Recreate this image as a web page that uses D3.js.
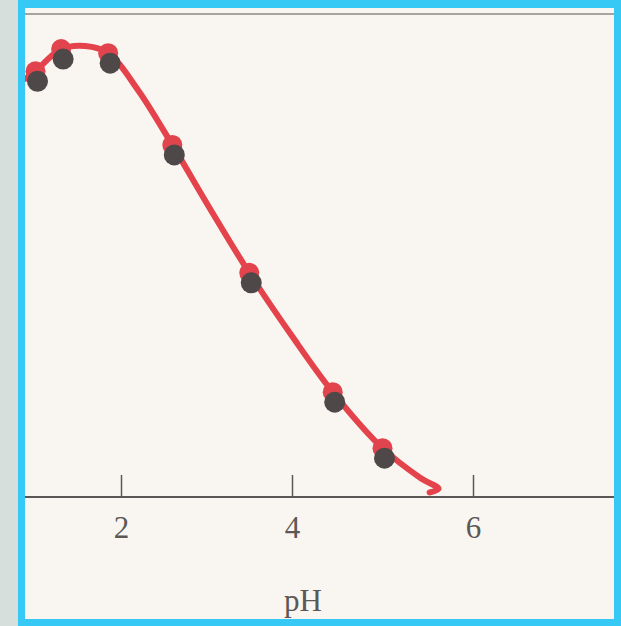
<!DOCTYPE html>
<html>
<head>
<meta charset="utf-8">
<script src="https://cdn.jsdelivr.net/npm/d3@7"></script>
<style>
  html, body { margin: 0; padding: 0; background: #d9e2de; }
  svg { display: block; }
</style>
</head>
<body>
<div id="chart"></div>
<script>
// measured points (pH, relative activity %)
const pointPH = [1.0, 1.3, 1.85, 2.6, 3.5, 4.45, 5.0];
const pointActivity = [94.2, 99.1, 98.2, 77.9, 49.6, 23.2, 10.8];

// fitted red curve
const curvePH = [0.88, 1.0, 1.3, 1.58, 1.85, 2.2, 2.6, 3.05, 3.5, 4.0, 4.45, 5.0, 5.42, 5.62, 5.52];
const curveActivity = [92.5, 94.2, 99.1, 99.8, 98.2, 90.0, 77.9, 63.5, 49.6, 35.6, 23.2, 10.8, 4.2, 1.8, 1.0];

const tickValues = [2, 4, 6];
const axisTitle = "pH";

const W = 621, H = 626;
const svg = d3.select("#chart").append("svg")
  .attr("width", W)
  .attr("height", H);

// page frame: grey strip, cyan border, beige paper
svg.append("rect").attr("x", 0).attr("y", 0).attr("width", W).attr("height", H).attr("fill", "#d6dfdb");
svg.append("rect").attr("x", 18).attr("y", 0).attr("width", W - 18).attr("height", H).attr("fill", "#36c9f6");
svg.append("rect").attr("x", 25).attr("y", 8).attr("width", 589).attr("height", 611).attr("fill", "#f9f6f1");

const left = 25, right = 614, axisY = 497;

// piecewise scale, the scan is slightly stretched on the right
const x = d3.scaleLinear().domain([2, 4, 6]).range([121, 292, 473]);
const y = d3.scaleLinear().domain([0, 100]).range([axisY, 45]);

svg.append("clipPath").attr("id", "plot")
  .append("rect").attr("x", left).attr("y", 8).attr("width", right - left).attr("height", axisY - 8);

// top frame line
svg.append("line")
  .attr("x1", left).attr("x2", right)
  .attr("y1", 14).attr("y2", 14)
  .attr("stroke", "#8a8886").attr("stroke-width", 1.5);

// x axis
const xAxis = d3.axisBottom(x)
  .tickValues(tickValues)
  .tickSizeInner(-22)
  .tickSizeOuter(0)
  .tickPadding(19)
  .tickFormat(d3.format("d"));

const gx = svg.append("g")
  .attr("transform", `translate(0,${axisY})`)
  .call(xAxis);
gx.select(".domain").remove();
gx.selectAll(".tick line").attr("stroke", "#5a5857").attr("stroke-width", 1.5);
gx.selectAll(".tick text")
  .attr("fill", "#5c5856")
  .style("font-family", "'Liberation Serif', 'DejaVu Serif', serif")
  .style("font-size", "31px");

svg.append("line")
  .attr("x1", left).attr("x2", right)
  .attr("y1", axisY).attr("y2", axisY)
  .attr("stroke", "#5a5857").attr("stroke-width", 2);

svg.append("text")
  .attr("x", 303)
  .attr("y", 611)
  .attr("text-anchor", "middle")
  .attr("fill", "#5c5856")
  .style("font-family", "'Liberation Serif', 'DejaVu Serif', serif")
  .style("font-size", "31px")
  .text(axisTitle);

const plot = svg.append("g").attr("clip-path", "url(#plot)");

const curveData = curvePH.map((p, i) => [p, curveActivity[i]]);
const line = d3.line()
  .x(d => x(d[0]))
  .y(d => y(d[1]))
  .curve(d3.curveCatmullRom.alpha(0.5));

plot.append("path")
  .datum(curveData)
  .attr("d", line)
  .attr("fill", "none")
  .attr("stroke", "#e4434c")
  .attr("stroke-width", 6)
  .attr("stroke-linecap", "round")
  .attr("stroke-linejoin", "round");

const pts = pointPH.map((p, i) => ({ ph: p, act: pointActivity[i] }));

// red print layer
plot.selectAll(".dot-red")
  .data(pts)
  .enter()
  .append("circle")
  .attr("class", "dot-red")
  .attr("cx", d => x(d.ph))
  .attr("cy", d => y(d.act))
  .attr("r", 10)
  .attr("fill", "#e2444e");

// black print layer, slightly out of register
plot.selectAll(".dot-dark")
  .data(pts)
  .enter()
  .append("circle")
  .attr("class", "dot-dark")
  .attr("cx", d => x(d.ph))
  .attr("cy", d => y(d.act))
  .attr("transform", "translate(2,10)")
  .attr("r", 10.5)
  .attr("fill", "#4e4849");
</script>
</body>
</html>
